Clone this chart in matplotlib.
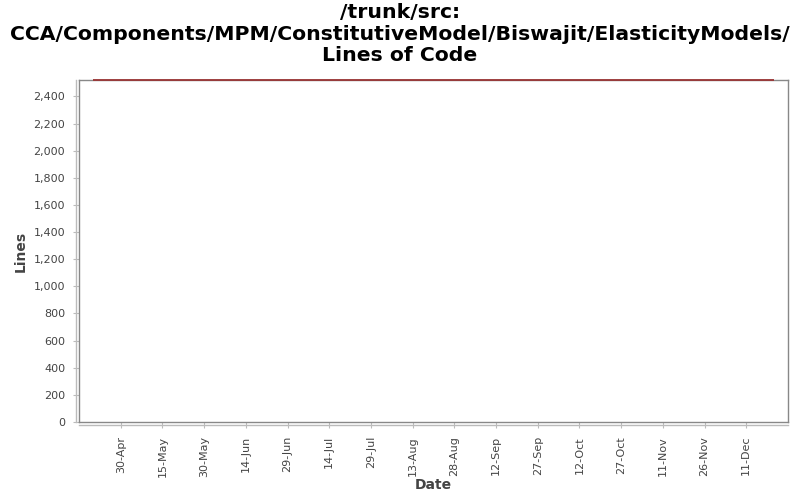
import datetime as dt
import matplotlib
matplotlib.use("Agg")
import matplotlib.pyplot as plt
import matplotlib.dates as mdates
from matplotlib.lines import Line2D
from matplotlib.ticker import FuncFormatter

# data
dates = [dt.date(2008, 4, 20), dt.date(2008, 12, 21)]
lines_of_code = [2521, 2521]
tick_dates = [dt.date(2008, 4, 30) + dt.timedelta(days=15 * i) for i in range(16)]

fig = plt.figure(figsize=(8, 5), dpi=100)
ax = fig.add_axes([79 / 800, 1 - 422 / 500, (788 - 79) / 800, (422 - 80) / 500])

ax.plot(dates, lines_of_code, color="#993333", lw=1.3, solid_capstyle="butt",
        clip_on=False, zorder=5)

ax.set_xlim(dt.date(2008, 4, 15) + dt.timedelta(days=0.7), dt.date(2008, 12, 26))
ax.set_ylim(0, 2521)
ax.set_yticks(range(0, 2401, 200))
ax.yaxis.set_major_formatter(FuncFormatter(lambda v, p: f"{int(v):,}"))
ax.set_xticks(tick_dates)
ax.xaxis.set_major_formatter(mdates.DateFormatter("%d-%b"))
plt.setp(ax.get_xticklabels(), rotation=90)

for s in ax.spines.values():
    s.set_color("#888888")
    s.set_linewidth(1)

ax.tick_params(axis="both", labelsize=8, colors="#444444", length=4, width=0.8)
ax.tick_params(axis="both", color="#bbbbbb")
ax.tick_params(axis="y", pad=6)
ax.tick_params(axis="x", pad=6)

# separate axis lines like the original
ax.add_line(Line2D([-0.004, -0.004], [0, 1], transform=ax.transAxes, color="#bbbbbb", lw=1, clip_on=False))
ax.add_line(Line2D([0, 1], [-0.009, -0.009], transform=ax.transAxes, color="#bbbbbb", lw=1, clip_on=False))

ax.set_ylabel("Lines", fontsize=10, color="#444444", fontweight="bold")
ax.set_xlabel("Date", fontsize=10, color="#444444", fontweight="bold", labelpad=1)

fig.text(0.5, 0.994, "/trunk/src:\nCCA/Components/MPM/ConstitutiveModel/Biswajit/ElasticityModels/\nLines of Code",
         ha="center", va="top", fontsize=14.7, fontweight="bold", linespacing=1.18)

fig.savefig("out.png", dpi=100)
